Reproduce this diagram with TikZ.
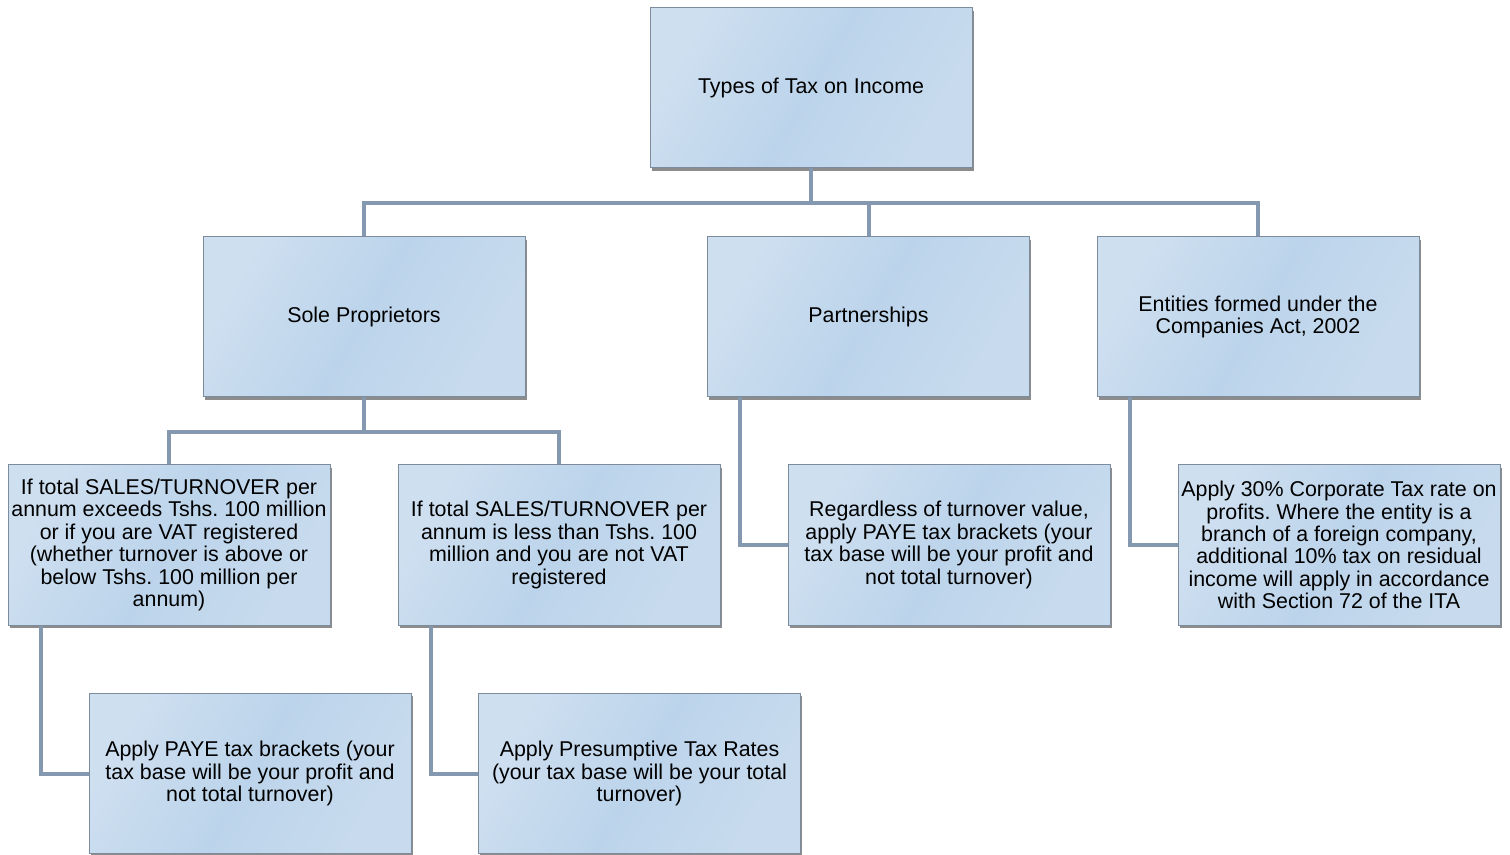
\documentclass[tikz,border=0pt]{standalone}
\usepackage{fontspec}
\setmainfont{Liberation Sans}
\usetikzlibrary{shadows}
\frenchspacing
\definecolor{boxL}{HTML}{CEDFF0}
\definecolor{boxM}{HTML}{BCD4EB}
\definecolor{boxR}{HTML}{C8DBEE}
\definecolor{boxEdge}{HTML}{7D8C9C}
\definecolor{lineC}{HTML}{8499B0}
\tikzset{
  box/.style={draw=boxEdge, line width=0.5pt, left color=boxL, right color=boxR, middle color=boxM,
    shading angle=60,
    minimum width=161pt, minimum height=80pt, inner sep=0pt, align=center,
    font=\fontsize{10.7}{11.2}\selectfont,
    drop shadow={shadow xshift=0.8pt, shadow yshift=-1.4pt, opacity=0.6, fill=black!75}},
  conn/.style={draw=lineC, line width=2pt}
}
\begin{document}
\begin{tikzpicture}[x=0.5pt,y=-0.5pt]
\useasboundingbox (0,0) rectangle (1510,855);
\node[box] (top) at (811,88) {Types of Tax on Income};
\node[box] (sole) at (364,317) {Sole Proprietors};
\node[box] (part) at (868.5,317) {Partnerships};
\node[box] (ent) at (1258,317) {Entities formed under the\\Companies Act, 2002};
\node[box] (a) at (169,545) {If total SALES/TURNOVER per\\annum exceeds Tshs. 100 million\\or if you are VAT registered\\(whether turnover is above or\\below Tshs. 100 million per\\annum)};
\node[box] (b) at (559,545) {If total SALES/TURNOVER per\\annum is less than Tshs. 100\\million and you are not VAT\\registered};
\node[box] (c) at (949,545) {Regardless of turnover value,\\apply PAYE tax brackets (your\\tax base will be your profit and\\not total turnover)};
\node[box] (d) at (1339,545) {Apply 30\% Corporate Tax rate on\\profits. Where the entity is a\\branch of a foreign company,\\additional 10\% tax on residual\\income will apply in accordance\\with Section 72 of the ITA};
\node[box] (e) at (250,773.5) {Apply PAYE tax brackets (your\\tax base will be your profit and\\not total turnover)};
\node[box] (f) at (639.5,773.5) {Apply Presumptive Tax Rates\\(your tax base will be your total\\turnover)};
\draw[conn] (top.south) -- ++(0,35) -| (sole.north);
\draw[conn] (top.south) -- ++(0,35) -| (part.north);
\draw[conn] (top.south) -- ++(0,35) -| (ent.north);
\draw[conn] (sole.south) -- ++(0,35) -| (a.north);
\draw[conn] (sole.south) -- ++(0,35) -| (b.north);
\draw[conn] ([xshift=16.5pt]part.south west) |- (c.west);
\draw[conn] ([xshift=16.5pt]ent.south west) |- (d.west);
\draw[conn] ([xshift=16.5pt]a.south west) |- (e.west);
\draw[conn] ([xshift=16.5pt]b.south west) |- (f.west);
\end{tikzpicture}
\end{document}
